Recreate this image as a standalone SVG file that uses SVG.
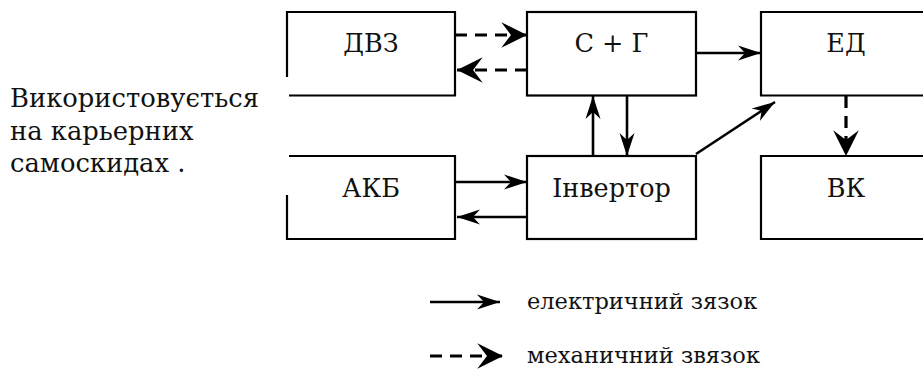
<svg xmlns="http://www.w3.org/2000/svg" width="923" height="369" viewBox="0 0 923 369">
<style>
  .box { fill: none; stroke: #000; stroke-width: 2.2; }
  .t { font-family: 'DejaVu Serif', serif; font-size: 25.5px; fill: #111; }
  .note { font-size: 25.8px; }
  .lg { font-size: 22.5px; }
  .c { text-anchor: middle; }
  .el { fill: none; stroke: #000; stroke-width: 2.6; }
  .me { fill: none; stroke: #000; stroke-width: 3.2; stroke-dasharray: 12 8; }
</style>
<defs>
  <marker id="ah" markerUnits="userSpaceOnUse" markerWidth="30" markerHeight="20" viewBox="-24 -10 26 20" refX="0" refY="0" orient="auto">
    <path d="M0,0 L-23,-7.5 L-16,0 L-23,7.5 Z" fill="#000"/>
  </marker>
  <marker id="ahm" markerUnits="userSpaceOnUse" markerWidth="30" markerHeight="30" viewBox="-26 -14 28 28" refX="0" refY="0" orient="auto">
    <path d="M0,0 L-24,-12 L-15,0 L-24,12 Z" fill="#000"/>
  </marker>
</defs>

<g id="note">
  <text class="t note" x="10" y="107">Використовується</text>
  <text class="t note" x="10" y="139.5">на карьерних</text>
  <text class="t note" x="10" y="172">самоскидах .</text>
</g>

<g id="dvz">
  <path class="box" d="M287,77 V12 H455 V95.5 H289"/>
  <text class="t c" x="371" y="52">ДВЗ</text>
</g>
<g id="sg">
  <rect class="box" x="527" y="12" width="169" height="83.5"/>
  <text class="t c" x="611.5" y="52">С + Г</text>
</g>
<g id="ed">
  <path class="box" d="M930,12 H761 V95.5 H930"/>
  <text class="t c" x="846" y="52">ЕД</text>
</g>
<g id="akb">
  <path class="box" d="M289,156 H455 V239 H287 V195"/>
  <text class="t c" x="371" y="197">АКБ</text>
</g>
<g id="inv">
  <rect class="box" x="527" y="156" width="169" height="83"/>
  <text class="t c" x="611.5" y="197">Інвертор</text>
</g>
<g id="vk">
  <path class="box" d="M930,156 H761 V239 H930"/>
  <text class="t c" x="846" y="197">ВК</text>
</g>

<g id="connectors">
  <path class="me" d="M455,35 H527" marker-end="url(#ahm)"/>
  <path class="me" d="M527,70 H457" marker-end="url(#ahm)"/>
  <path class="el" d="M696,53 H761" marker-end="url(#ah)"/>
  <path class="el" d="M455,182 H527" marker-end="url(#ah)"/>
  <path class="el" d="M527,217 H457" marker-end="url(#ah)"/>
  <path class="el" d="M593,156 V96" marker-end="url(#ah)"/>
  <path class="el" d="M627,96 V156" marker-end="url(#ah)"/>
  <path class="el" d="M696,154 L775,102" marker-end="url(#ah)"/>
  <path class="me" d="M846,96 V156" marker-end="url(#ahm)"/>
</g>

<g id="legend">
  <path class="el" d="M430,302 H500" marker-end="url(#ah)"/>
  <text class="t lg" x="527" y="309">електричний зязок</text>
  <path class="me" d="M430,356 H503" marker-end="url(#ahm)"/>
  <text class="t lg" x="527" y="363">механичний звязок</text>
</g>
</svg>
